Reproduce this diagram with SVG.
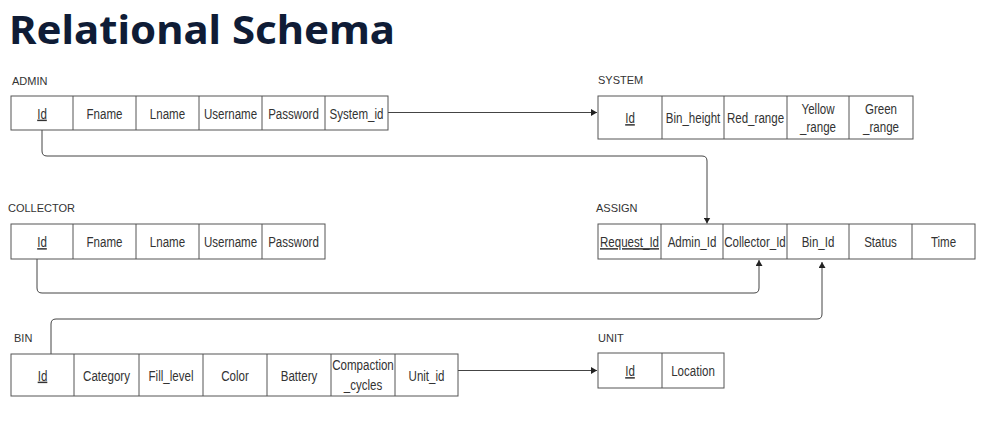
<svg xmlns="http://www.w3.org/2000/svg" width="983" height="433" viewBox="0 0 983 433">
<defs>
<style>
.title{font-family:"Noto Sans","Liberation Sans",sans-serif;font-weight:700;font-size:40px;fill:#0f1c36}
.lbl{font-family:"Liberation Sans",Arial,sans-serif;font-size:11px;fill:#333}
.cell{font-family:"Liberation Sans",Arial,sans-serif;font-size:15px;fill:#333;text-anchor:middle}
.key{text-decoration:underline}
.box{fill:#fff;stroke:#555;stroke-width:1}
.div{stroke:#555;stroke-width:1}
.con{fill:none;stroke:#444;stroke-width:1}
</style>
<marker id="arr" markerUnits="userSpaceOnUse" markerWidth="7" markerHeight="7" refX="6" refY="3.5" orient="auto">
<path d="M0,0 L6,3.5 L0,7 z" fill="#222"/>
</marker>
</defs>
<rect width="983" height="433" fill="#fff"/>
<text class="title" x="9" y="44" textLength="386" lengthAdjust="spacingAndGlyphs">Relational Schema</text>

<g id="connectors">
<path class="con" d="M388,112.5 H597" marker-end="url(#arr)"/>
<path class="con" d="M42,130 V151 Q42,156 47,156 H702 Q707,156 707,161 V223.5" marker-end="url(#arr)"/>
<path class="con" d="M37,259 V288 Q37,293 42,293 H754 Q759,293 759,288 V260" marker-end="url(#arr)"/>
<path class="con" d="M51,354 V324 Q51,319 56,319 H817 Q822,319 822,314 V262" marker-end="url(#arr)"/>
<path class="con" d="M458,370.5 H597" marker-end="url(#arr)"/>
</g>

<g id="admin">
<text class="lbl" x="12" y="85">ADMIN</text>
<rect class="box" x="11" y="96" width="377" height="34"/>
<path class="div" d="M73,96V130 M136,96V130 M199,96V130 M262,96V130 M325,96V130"/>
<text class="cell key" transform="translate(42 118.5) scale(0.77 1)">Id</text>
<text class="cell" transform="translate(104.5 118.5) scale(0.77 1)">Fname</text>
<text class="cell" transform="translate(167.5 118.5) scale(0.77 1)">Lname</text>
<text class="cell" transform="translate(230.5 118.5) scale(0.77 1)">Username</text>
<text class="cell" transform="translate(293.5 118.5) scale(0.77 1)">Password</text>
<text class="cell" transform="translate(356.5 118.5) scale(0.77 1)">System_id</text>
</g>

<g id="system">
<text class="lbl" x="598" y="84">SYSTEM</text>
<rect class="box" x="598" y="96" width="315" height="43"/>
<path class="div" d="M662,96V139 M724,96V139 M787,96V139 M849,96V139"/>
<text class="cell key" transform="translate(630 123) scale(0.77 1)">Id</text>
<text class="cell" transform="translate(693 123) scale(0.77 1)">Bin_height</text>
<text class="cell" transform="translate(755.5 123) scale(0.77 1)">Red_range</text>
<text class="cell" transform="translate(818 114) scale(0.77 1)">Yellow</text>
<text class="cell" transform="translate(818 131.5) scale(0.77 1)">_range</text>
<text class="cell" transform="translate(881 114) scale(0.77 1)">Green</text>
<text class="cell" transform="translate(881 131.5) scale(0.77 1)">_range</text>
</g>

<g id="collector">
<text class="lbl" x="8" y="212">COLLECTOR</text>
<rect class="box" x="11" y="224" width="314" height="35"/>
<path class="div" d="M73,224V259 M136,224V259 M199,224V259 M262,224V259"/>
<text class="cell key" transform="translate(42 247) scale(0.77 1)">Id</text>
<text class="cell" transform="translate(104.5 247) scale(0.77 1)">Fname</text>
<text class="cell" transform="translate(167.5 247) scale(0.77 1)">Lname</text>
<text class="cell" transform="translate(230.5 247) scale(0.77 1)">Username</text>
<text class="cell" transform="translate(293.5 247) scale(0.77 1)">Password</text>
</g>

<g id="assign">
<text class="lbl" x="596" y="212">ASSIGN</text>
<rect class="box" x="598" y="224" width="377" height="35"/>
<path class="div" d="M661,224V259 M723,224V259 M787,224V259 M849,224V259 M912,224V259"/>
<text class="cell key" transform="translate(629.5 247) scale(0.77 1)">Request_Id</text>
<text class="cell" transform="translate(692 247) scale(0.77 1)">Admin_Id</text>
<text class="cell" transform="translate(755 247) scale(0.77 1)">Collector_Id</text>
<text class="cell" transform="translate(818 247) scale(0.77 1)">Bin_Id</text>
<text class="cell" transform="translate(880.5 247) scale(0.77 1)">Status</text>
<text class="cell" transform="translate(943.5 247) scale(0.77 1)">Time</text>
</g>

<g id="bin">
<text class="lbl" x="14" y="342">BIN</text>
<rect class="box" x="11" y="354" width="447" height="42"/>
<path class="div" d="M74,354V396 M139,354V396 M203,354V396 M267,354V396 M331,354V396 M395,354V396"/>
<text class="cell key" transform="translate(42.5 380.5) scale(0.77 1)">Id</text>
<text class="cell" transform="translate(106.5 380.5) scale(0.77 1)">Category</text>
<text class="cell" transform="translate(171 380.5) scale(0.77 1)">Fill_level</text>
<text class="cell" transform="translate(235 380.5) scale(0.77 1)">Color</text>
<text class="cell" transform="translate(299 380.5) scale(0.77 1)">Battery</text>
<text class="cell" transform="translate(363 370) scale(0.77 1)">Compaction</text>
<text class="cell" transform="translate(363 389.5) scale(0.77 1)">_cycles</text>
<text class="cell" transform="translate(426.5 380.5) scale(0.77 1)">Unit_id</text>
</g>

<g id="unit">
<text class="lbl" x="598" y="342">UNIT</text>
<rect class="box" x="598" y="353" width="126" height="35"/>
<path class="div" d="M662,353V388"/>
<text class="cell key" transform="translate(630 376) scale(0.77 1)">Id</text>
<text class="cell" transform="translate(693 376) scale(0.77 1)">Location</text>
</g>
</svg>
